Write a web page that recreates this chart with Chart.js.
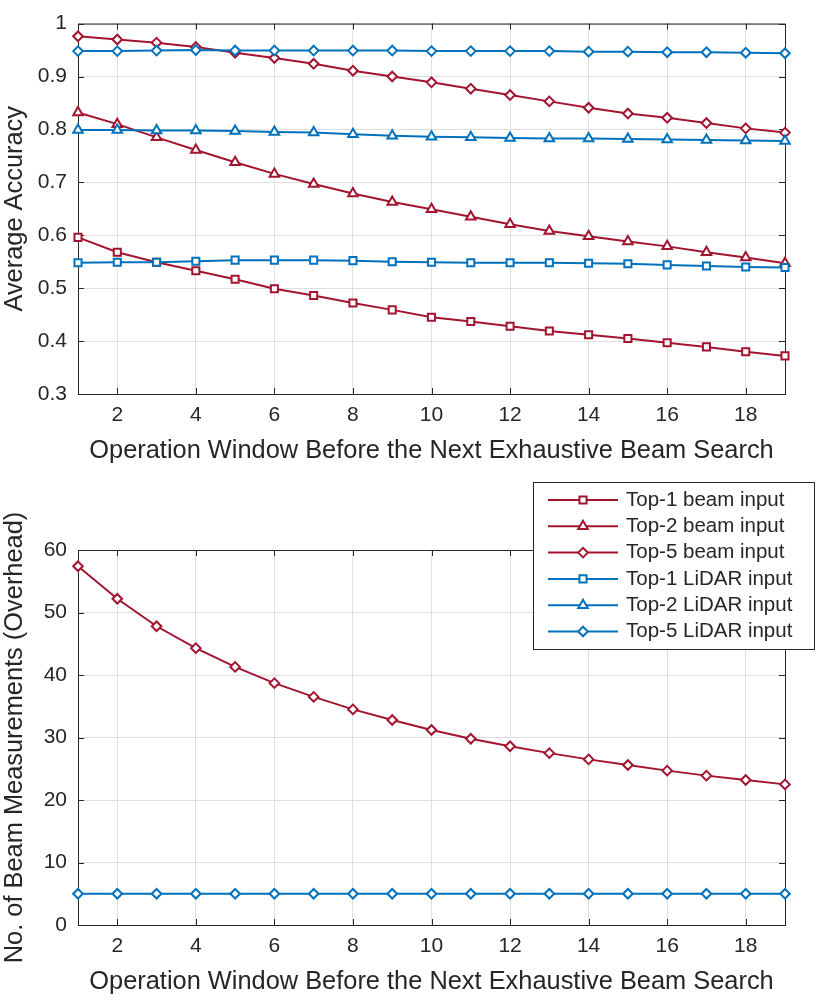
<!DOCTYPE html>
<html>
<head>
<meta charset="utf-8">
<script src="https://cdn.jsdelivr.net/npm/chart.js@4.4.1/dist/chart.umd.min.js"></script>
<style>
  html, body { margin: 0; padding: 0; background: #fff; }
  #top { position: absolute; left: 0; top: 0; width: 830px; height: 470px; }
  #bottom { position: absolute; left: 0; top: 470px; width: 830px; height: 536px; }
</style>
</head>
<body>
<div id="top"><canvas id="accChart"></canvas></div>
<div id="bottom"><canvas id="overheadChart"></canvas></div>
<script>
// operation window (x) and tick labels
const windows = [1, 2, 3, 4, 5, 6, 7, 8, 9, 10, 11, 12, 13, 14, 15, 16, 17, 18, 19];
const xTicks = [2, 4, 6, 8, 10, 12, 14, 16, 18];
const accTicks = [0.3, 0.4, 0.5, 0.6, 0.7, 0.8, 0.9, 1];
const overheadTicks = [0, 10, 20, 30, 40, 50, 60];

const seriesLabels = ['Top-1 beam input', 'Top-2 beam input', 'Top-5 beam input',
                      'Top-1 LiDAR input', 'Top-2 LiDAR input', 'Top-5 LiDAR input'];

// average accuracy
const top1Beam = [0.596, 0.568, 0.549, 0.533, 0.517, 0.499, 0.486, 0.472, 0.459, 0.445, 0.437, 0.428, 0.419, 0.412, 0.405, 0.397, 0.389, 0.380, 0.372];
const top2Beam = [0.832, 0.810, 0.785, 0.761, 0.738, 0.716, 0.697, 0.679, 0.663, 0.649, 0.635, 0.621, 0.608, 0.598, 0.588, 0.579, 0.568, 0.558, 0.547];
const top5Beam = [0.976, 0.970, 0.964, 0.956, 0.945, 0.935, 0.924, 0.911, 0.900, 0.889, 0.877, 0.865, 0.853, 0.841, 0.830, 0.822, 0.812, 0.802, 0.794];
const top1Lidar = [0.548, 0.549, 0.549, 0.551, 0.553, 0.553, 0.553, 0.552, 0.550, 0.549, 0.548, 0.548, 0.548, 0.547, 0.546, 0.544, 0.542, 0.540, 0.539];
const top2Lidar = [0.799, 0.799, 0.798, 0.798, 0.797, 0.795, 0.794, 0.791, 0.788, 0.786, 0.785, 0.784, 0.783, 0.783, 0.782, 0.781, 0.780, 0.779, 0.778];
const top5Lidar = [0.948, 0.948, 0.949, 0.950, 0.949, 0.949, 0.949, 0.949, 0.949, 0.948, 0.948, 0.948, 0.948, 0.947, 0.947, 0.946, 0.946, 0.945, 0.944];

// number of beam measurements (overhead)
const beamOverhead = [57.4, 52.2, 47.8, 44.3, 41.3, 38.7, 36.5, 34.5, 32.8, 31.2, 29.8, 28.6, 27.5, 26.5, 25.6, 24.7, 23.9, 23.2, 22.5];
const lidarOverhead = [5, 5, 5, 5, 5, 5, 5, 5, 5, 5, 5, 5, 5, 5, 5, 5, 5, 5, 5];

const RED = '#a2142f';
const BLUE = '#0072bd';
const INK = '#262626';
const GRID = '#dfdfdf';
const FONT = '"Liberation Sans", Arial, Helvetica, sans-serif';
const xTitle = 'Operation Window Before the Next Exhaustive Beam Search';
const markerSize = { rect: 5, triangle: 5.5, rectRot: 4.8 };

function pts(vals) {
    return vals ? vals.map((v, i) => ({ x: windows[i], y: v })) : [];
}

function series(i, vals, color, marker) {
    return {
        label: seriesLabels[i],
        data: pts(vals),
        borderColor: color,
        backgroundColor: '#fff',
        borderWidth: 2,
        pointStyle: marker,
        pointRadius: markerSize[marker],
        pointBorderWidth: 2,
        pointBackgroundColor: '#fff',
        pointBorderColor: color,
        tension: 0,
        clip: false,
        order: 6 - i
    };
}

// box around the axes with inward ticks, like matlab
const framePlugin = {
    id: 'frame',
    beforeDatasetsDraw(chart) {
        const { ctx, chartArea: a, scales: { x, y } } = chart;
        ctx.save();
        ctx.strokeStyle = INK;
        ctx.lineWidth = 1;
        ctx.strokeRect(a.left + 0.5, a.top + 0.5, a.right - a.left, a.bottom - a.top);
        ctx.beginPath();
        x.ticks.forEach(t => {
            const px = Math.round(x.getPixelForValue(t.value)) + 0.5;
            ctx.moveTo(px, a.bottom); ctx.lineTo(px, a.bottom - 6);
            ctx.moveTo(px, a.top); ctx.lineTo(px, a.top + 6);
        });
        y.ticks.forEach(t => {
            const py = Math.round(y.getPixelForValue(t.value)) + 0.5;
            ctx.moveTo(a.left, py); ctx.lineTo(a.left + 6, py);
            ctx.moveTo(a.right, py); ctx.lineTo(a.right - 6, py);
        });
        ctx.stroke();
        ctx.restore();
    }
};

// legend in a box that may hang over the axes
const boxLegend = {
    id: 'boxLegend',
    afterDatasetsDraw(chart, args, opts) {
        if (!opts.show) return;
        const { ctx } = chart;
        ctx.save();
        ctx.fillStyle = '#fff';
        ctx.fillRect(opts.left, opts.top, opts.width, opts.height);
        ctx.strokeStyle = INK;
        ctx.lineWidth = 1;
        ctx.strokeRect(opts.left + 0.5, opts.top + 0.5, opts.width, opts.height);
        ctx.font = '20.5px ' + FONT;
        ctx.textBaseline = 'middle';
        ctx.textAlign = 'left';
        chart.data.datasets.forEach((ds, i) => {
            const cy = opts.top + opts.firstRow + i * opts.rowHeight;
            const x0 = opts.left + opts.lineStart;
            ctx.strokeStyle = ds.borderColor;
            ctx.lineWidth = 2;
            ctx.beginPath();
            ctx.moveTo(x0, cy);
            ctx.lineTo(x0 + opts.lineLen, cy);
            ctx.stroke();
            ctx.fillStyle = '#fff';
            Chart.helpers.drawPoint(ctx, { pointStyle: ds.pointStyle, radius: ds.pointRadius, borderWidth: 2, rotation: 0 },
                x0 + opts.lineLen / 2, cy);
            ctx.fillStyle = INK;
            ctx.fillText(ds.label, x0 + opts.lineLen + opts.textGap, cy);
        });
        ctx.restore();
    }
};

function xScale(axisHeight, titlePad) {
    return {
        type: 'linear', min: 1, max: 19,
        afterBuildTicks: s => { s.ticks = xTicks.map(v => ({ value: v })); },
        afterFit: s => { s.height = axisHeight; },
        grid: { color: GRID, drawTicks: false },
        border: { display: false },
        ticks: { color: INK, font: { family: FONT, size: 21 }, padding: 9, maxRotation: 0 },
        title: { display: true, text: xTitle, color: INK, font: { family: FONT, size: 25.4 }, padding: { top: 0, bottom: titlePad } }
    };
}

function yScale(title, tickValues) {
    return {
        type: 'linear', min: tickValues[0], max: tickValues[tickValues.length - 1],
        afterBuildTicks: s => { s.ticks = tickValues.map(v => ({ value: v })); },
        afterFit: s => { s.width = 78; },
        grid: { color: GRID, drawTicks: false },
        border: { display: false },
        ticks: { color: INK, font: { family: FONT, size: 21 }, padding: 11, callback: v => String(v) },
        title: { display: true, text: title, color: INK, font: { family: FONT, size: 25.4 }, padding: { top: 0, bottom: 0 } }
    };
}

new Chart(document.getElementById('accChart'), {
    type: 'line',
    data: {
        datasets: [
            series(0, top1Beam, RED, 'rect'),
            series(1, top2Beam, RED, 'triangle'),
            series(2, top5Beam, RED, 'rectRot'),
            series(3, top1Lidar, BLUE, 'rect'),
            series(4, top2Lidar, BLUE, 'triangle'),
            series(5, top5Lidar, BLUE, 'rectRot')
        ]
    },
    options: {
        responsive: true,
        maintainAspectRatio: false,
        animation: false,
        layout: { padding: { top: 20, right: 45, bottom: 0, left: 0 } },
        plugins: { legend: { display: false }, tooltip: { enabled: false }, boxLegend: { show: false } },
        scales: { x: xScale(76, 4), y: yScale('Average Accuracy', accTicks) }
    },
    plugins: [framePlugin, boxLegend]
});

new Chart(document.getElementById('overheadChart'), {
    type: 'line',
    data: {
        datasets: [
            series(0, null, RED, 'rect'),
            series(1, null, RED, 'triangle'),
            series(2, beamOverhead, RED, 'rectRot'),
            series(3, null, BLUE, 'rect'),
            series(4, null, BLUE, 'triangle'),
            series(5, lidarOverhead, BLUE, 'rectRot')
        ]
    },
    options: {
        responsive: true,
        maintainAspectRatio: false,
        animation: false,
        layout: { padding: { top: 80, right: 45, bottom: 0, left: 0 } },
        plugins: {
            legend: { display: false },
            tooltip: { enabled: false },
            boxLegend: { show: true, left: 533, top: 12, width: 281, height: 167, firstRow: 18, rowHeight: 26.3, lineStart: 15, lineLen: 70, textGap: 8 }
        },
        scales: { x: xScale(81, 9), y: yScale('No. of Beam Measurements (Overhead)', overheadTicks) }
    },
    plugins: [framePlugin, boxLegend]
});
</script>
</body>
</html>
